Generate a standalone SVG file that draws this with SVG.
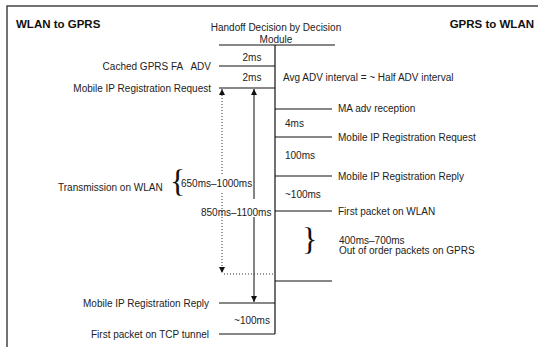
<svg xmlns="http://www.w3.org/2000/svg" width="538" height="347" viewBox="0 0 538 347">
  <defs>
    <style>
      text { font-family: "Liberation Sans", Arial, sans-serif; font-size: 10px; fill: #222; }
      .title { font-weight: bold; font-size: 11.5px; fill: #111; }
      .end { text-anchor: end; }
      .mid { text-anchor: middle; }
      .pre { white-space: pre; }
      .ln { stroke: #111; stroke-width: 1.2; fill: none; }
      .arr { stroke: #333; stroke-width: 1.2; fill: none; }
      .dot { stroke: #333; stroke-width: 1; stroke-dasharray: 1 2; fill: none; }
      .frame { stroke: #444; stroke-width: 1.5; fill: none; }
      .brace { font-family: "Liberation Serif", "Times New Roman", serif; font-size: 32px; fill: #111; }
    </style>
    <marker id="head" viewBox="0 0 6 8" refX="6" refY="4" markerWidth="6" markerHeight="8" orient="auto" markerUnits="userSpaceOnUse">
      <path d="M0,1 L6,4 L0,7 z" fill="#111"/>
    </marker>
  </defs>

  <!-- frame -->
  <path class="frame" d="M7,347 V6 H538"/>

  <!-- headings -->
  <text class="title" x="16" y="28">WLAN to GPRS</text>
  <text class="title end" x="534" y="28">GPRS to WLAN</text>

  <!-- decision module timeline -->
  <g id="module">
    <text class="mid" x="276" y="31">Handoff Decision by Decision</text>
    <text class="mid" x="276" y="43">Module</text>
  </g>

  <g id="connectors">
    <!-- spine -->
    <line class="ln" x1="219" y1="45" x2="335" y2="45"/>
    <line class="ln" x1="275" y1="45" x2="275" y2="334"/>
    <!-- left ticks -->
    <line class="ln" x1="219" y1="66" x2="275" y2="66"/>
    <line class="ln" x1="219" y1="88" x2="275" y2="88"/>
    <line class="ln" x1="219" y1="303" x2="275" y2="303"/>
    <line class="ln" x1="219" y1="334" x2="275" y2="334"/>
    <!-- right ticks -->
    <line class="ln" x1="275" y1="109" x2="332" y2="109"/>
    <line class="ln" x1="275" y1="137" x2="332" y2="137"/>
    <line class="ln" x1="275" y1="176" x2="332" y2="176"/>
    <line class="ln" x1="275" y1="211" x2="332" y2="211"/>
    <line class="ln" x1="275" y1="281" x2="332" y2="281"/>
    <!-- 850ms-1100ms span -->
    <line class="arr" x1="254" y1="199" x2="254" y2="89" marker-end="url(#head)"/>
    <line class="arr" x1="254" y1="217" x2="254" y2="302" marker-end="url(#head)"/>
    <!-- 650ms-1000ms span -->
    <line class="dot" x1="222" y1="174" x2="222" y2="89" marker-end="url(#head)"/>
    <line class="dot" x1="222" y1="193" x2="222" y2="273" marker-end="url(#head)"/>
    <line class="dot" x1="224" y1="274" x2="275" y2="274"/>
  </g>

  <!-- left events -->
  <g id="left-events">
    <text class="end pre" x="211" y="70">Cached GPRS FA   ADV</text>
    <text class="end" x="211" y="92">Mobile IP Registration Request</text>
    <text class="end" x="209" y="307">Mobile IP Registration Reply</text>
    <text class="end" x="209" y="338">First packet on TCP tunnel</text>
  </g>

  <!-- left intervals -->
  <g id="left-intervals">
    <text class="mid" x="252" y="61">2ms</text>
    <text class="mid" x="252" y="81">2ms</text>
    <text x="58" y="191">Transmission on WLAN</text>
    <text class="brace" x="170" y="192">{</text>
    <text x="181" y="187">650ms–1000ms</text>
    <text x="201" y="216">850ms–1100ms</text>
    <text class="mid" x="252" y="324">~100ms</text>
  </g>

  <!-- right events -->
  <g id="right-events">
    <text x="283" y="81">Avg ADV interval = ~ Half ADV interval</text>
    <text x="338" y="112">MA adv reception</text>
    <text x="338" y="141">Mobile IP Registration Request</text>
    <text x="338" y="180">Mobile IP Registration Reply</text>
    <text x="338" y="215">First packet on WLAN</text>
    <text x="339" y="244">400ms–700ms</text>
    <text x="339" y="254">Out of order packets on GPRS</text>
  </g>

  <!-- right intervals -->
  <g id="right-intervals">
    <text x="285" y="127">4ms</text>
    <text x="285" y="159">100ms</text>
    <text x="285" y="198">~100ms</text>
    <text class="brace" x="302" y="250">}</text>
  </g>
</svg>
